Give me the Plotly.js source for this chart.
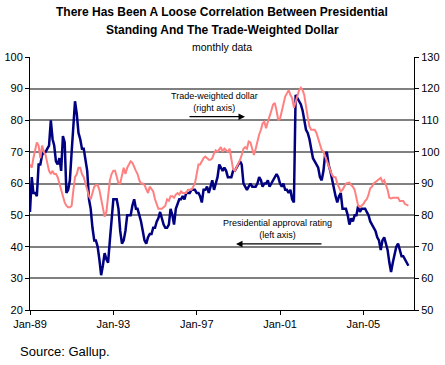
<!DOCTYPE html>
<html>
<head>
<meta charset="utf-8">
<script src="https://cdn.plot.ly/plotly-3.0.1.min.js"></script>
<style>html,body{margin:0;padding:0;background:#fff;}#chart{width:445px;height:365px;}</style>
</head>
<body>
<div id="chart"></div>
<script>
// Monthly series, first month Jan-1989
var startYear = 1989;
var approval = [
51,62,57,57,56,66,66,69,70,70,71,72,
80,74,72,67,66,68,64,75,73,57,58,61,
70,80,86,82,76,74,71,71,67,64,55,52,
46,42,42,40,36,31,34,38,36,35,42,49,
55,55,55,52,45,41,42,45,50,50,50,53,
55,52,52,50,48,45,42,41,43,44,44,46,
46,48,49,51,49,47,46,46,47,52,50,47,
52,54,55,55,56,55,57,57,57,58,58,58,
57,57,56,54,58,58,59,57,59,61,58,60,
62,66,65,64,65,64,62,62,62,64,64,65,
66,67,66,60,59,58,59,60,59,59,59,60,
62,61,59,60,60,61,59,60,61,62,63,62,
60,59,60,58,58,57,58,55,54,88,87,86,
85,83,80,77,76,74,71,68,67,66,65,62,
61,64,69,70,66,64,61,58,56,54,56,57,
52,52,52,50,47,49,48,50,50,53,51,52,
52,52,51,50,48,47,46,45,43,42,39,42,
43,41,39,35,32,35,38,40,41,39,37,37,
36,35,34
];
var dollar = [
96,95,98,101,103,102,98,102,100,99,96,94,
93,94,93,93,92,90,88,86,84,83,82.5,82.5,
83,88,92,93,95,95,93,92,90,88,86,85,
87,89,89.5,89.5,88,85,82,79.5,81,86,91,93,
94,94,92,90,90,93,95,93,95,96,97,96.5,
95,94,93,91,90,90,89.5,88,87,89,88,87.5,
85,83,82,82,82,82.5,83,85,84.5,86,86,85.5,
86.5,87,86.5,87.5,87,87,87,88,88,88,89,90,
93,96,96,97,98,98.5,98,97.5,97.5,98,99.5,100.5,
100,101,101.5,100,101,100.5,100,101,98,94.5,94,95,
96,97.5,99,101,101.5,101,103.3,103,101,99,101,103.5,
105.5,107,109,109.5,107.5,109.5,111,113,115,115.5,113,110,
110.5,113,115.5,117.5,118.5,119.5,118,117,114,116,118,119.5,
120.3,119.5,118,114,111,108,107,107,107,106,104,102,
100.6,100,98.5,97.5,95.5,94,92.7,92,92,90,88.5,87.5,
88,89,90,90.2,90.3,89.5,89,88,85,83,82.5,83,
83.5,84.5,85,86.5,88.5,89,90,90.5,91,91.3,91.8,90.5,
91,89.5,88,85.5,85.3,85.5,85.5,85.5,85.5,84.5,84.5,84.5,
83.5,83.3,83
];
var leftTicks = [20,30,40,50,60,70,80,90,100];
var rightTicks = [50,60,70,80,90,100,110,120,130];
var xTickDates = ['1989-01-01','1993-01-01','1997-01-01','2001-01-01','2005-01-01'];
var xTickLabels = ['Jan-89','Jan-93','Jan-97','Jan-01','Jan-05'];

function monthDates(n){
  var out=[];
  for(var i=0;i<n;i++){
    var y=startYear+Math.floor(i/12), m=(i%12)+1;
    out.push(y+'-'+(m<10?'0':'')+m+'-01');
  }
  return out;
}

var font = 'Liberation Sans, Arial, sans-serif';
var traces = [
  {x: monthDates(dollar.length), y: dollar, yaxis:'y2', type:'scatter', mode:'lines',
   line:{color:'#FF8080', width:2}, hoverinfo:'skip'},
  {x: monthDates(approval.length), y: approval, type:'scatter', mode:'lines',
   line:{color:'#000080', width:2.5}, hoverinfo:'skip'}
];

function px(x){return (x-30)/384;}
function py(y){return (310-y)/252.6;}

var layout = {
  width:445, height:365,
  margin:{l:30, r:31, t:57.4, b:55, pad:0},
  paper_bgcolor:'#fff', plot_bgcolor:'#fff',
  showlegend:false,
  font:{family:font, size:11, color:'#000'},
  xaxis:{type:'date', range:['1989-01-01','2007-06-07'],
    tickvals:xTickDates, ticktext:xTickLabels,
    ticks:'outside', ticklen:4, tickcolor:'#000', showgrid:false, zeroline:false,
    showline:true, linecolor:'#000', linewidth:1, tickfont:{size:11, family:font}},
  yaxis:{range:[20,100], tickvals:leftTicks, ticks:'outside', ticklen:4, tickcolor:'#000',
    showgrid:true, gridcolor:'#808080', gridwidth:2, zeroline:false,
    showline:true, linecolor:'#000', linewidth:1, tickfont:{size:11, family:font}},
  yaxis2:{range:[50,130], tickvals:rightTicks, overlaying:'y', side:'right',
    ticks:'outside', ticklen:4, tickcolor:'#000', showgrid:false, zeroline:false,
    showline:true, linecolor:'#000', linewidth:1, tickfont:{size:11, family:font}},
  annotations:[
    {xref:'paper', yref:'paper', x:0.5, y:py(12.5), xanchor:'center', yanchor:'middle',
     text:'<b>There Has Been A Loose Correlation Between Presidential</b>', showarrow:false,
     font:{size:12, family:font}},
    {xref:'paper', yref:'paper', x:0.5, y:py(30.5), xanchor:'center', yanchor:'middle',
     text:'<b>Standing And The Trade-Weighted Dollar</b>', showarrow:false,
     font:{size:12, family:font}},
    {xref:'paper', yref:'paper', x:0.5, y:py(47), xanchor:'center', yanchor:'middle',
     text:'monthly data', showarrow:false, font:{size:10.5, family:font}},
    {xref:'paper', yref:'paper', x:px(18), y:py(351), xanchor:'left', yanchor:'middle',
     text:'Source: Gallup.', showarrow:false, font:{size:13, family:font}},
    {xref:'paper', yref:'paper', x:px(214), y:py(102.5), xanchor:'center', yanchor:'middle',
     text:'Trade-weighted dollar<br>(right axis)', showarrow:false, font:{size:9, family:font}},
    {xref:'paper', yref:'paper', x:px(245), y:py(117), ax:-57, ay:0, text:'', showarrow:true,
     arrowhead:2, arrowsize:1, arrowwidth:1.3, arrowcolor:'#000'},
    {xref:'paper', yref:'paper', x:px(277), y:py(229.5), xanchor:'center', yanchor:'middle',
     text:'Presidential approval rating<br>(left axis)', showarrow:false, font:{size:9, family:font}},
    {xref:'paper', yref:'paper', x:px(236), y:py(244), ax:87, ay:0, text:'', showarrow:true,
     arrowhead:2, arrowsize:1, arrowwidth:1.3, arrowcolor:'#000'}
  ]
};

Plotly.newPlot('chart', traces, layout, {displayModeBar:false, staticPlot:true});
</script>
</body>
</html>
